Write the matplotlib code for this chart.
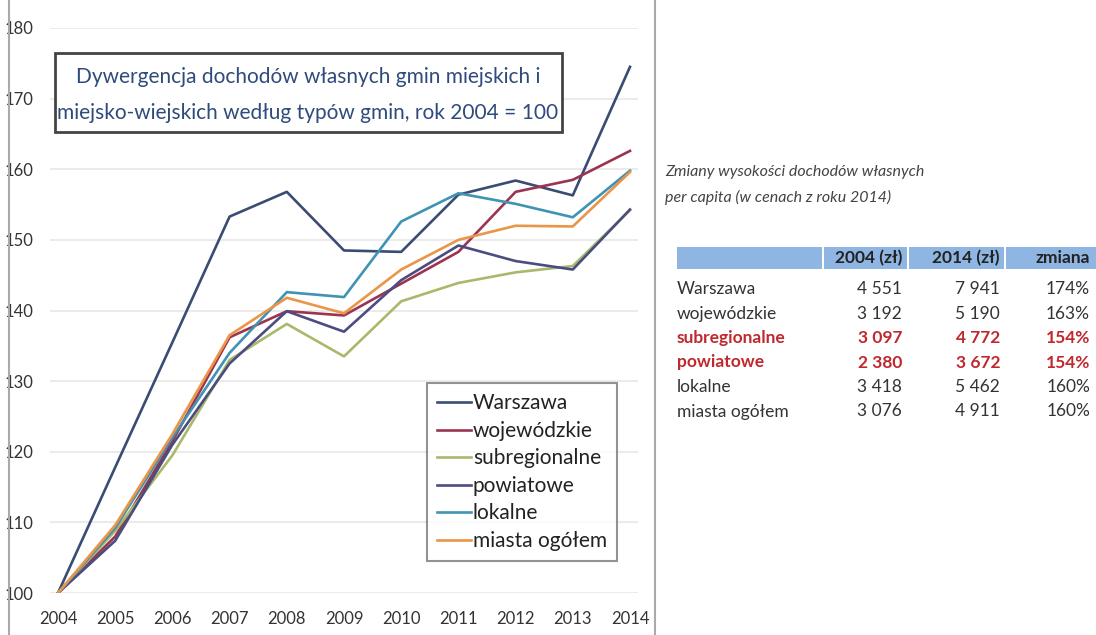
import matplotlib.pyplot as plt
from matplotlib.patches import Rectangle

# wskaźniki dochodów własnych, rok 2004 = 100
lata = [2004, 2005, 2006, 2007, 2008, 2009, 2010, 2011, 2012, 2013, 2014]
warszawa = [100, 117.8, 135.5, 153.3, 156.8, 148.5, 148.3, 156.4, 158.4, 156.3, 174.5]
wojewodzkie = [100, 108.0, 121.5, 136.2, 139.9, 139.3, 143.8, 148.3, 156.8, 158.5, 162.6]
subregionalne = [100, 108.8, 119.5, 133.0, 138.1, 133.5, 141.3, 143.9, 145.4, 146.3, 154.2]
powiatowe = [100, 107.4, 121.0, 132.5, 139.9, 137.0, 144.3, 149.2, 147.0, 145.8, 154.3]
lokalne = [100, 109.2, 122.0, 134.0, 142.6, 141.9, 152.6, 156.6, 155.1, 153.2, 159.8]
miasta_ogolem = [100, 109.6, 122.5, 136.5, 141.8, 139.6, 145.8, 150.0, 152.0, 151.9, 159.6]

serie = [
    ("Warszawa", warszawa, "#3a4c74"),
    ("wojewódzkie", wojewodzkie, "#9c3450"),
    ("subregionalne", subregionalne, "#a9b96c"),
    ("powiatowe", powiatowe, "#4b4d80"),
    ("lokalne", lokalne, "#3f93b3"),
    ("miasta ogółem", miasta_ogolem, "#eb9548"),
]

# tabela po prawej stronie
kolumny = ["2004 (zł)", "2014 (zł)", "zmiana"]
typy = ["Warszawa", "wojewódzkie", "subregionalne", "powiatowe", "lokalne", "miasta ogółem"]
dochod_2004 = ["4 551", "3 192", "3 097", "2 380", "3 418", "3 076"]
dochod_2014 = ["7 941", "5 190", "4 772", "3 672", "5 462", "4 911"]
zmiana = ["174%", "163%", "154%", "154%", "160%", "160%"]
wyroznione = ["subregionalne", "powiatowe"]

plt.rcParams['font.family'] = ['Lato', 'DejaVu Sans']

fig = plt.figure(figsize=(10.96, 6.35), dpi=100)
ax = fig.add_axes([50 / 1096, 1 - 593 / 635, 588 / 1096, 565 / 635])

for nazwa, wartosci, kolor in serie:
    ax.plot(lata, wartosci, color=kolor, lw=1.9, label=nazwa)

ax.set_xlim(2003.86, 2014.14)
ax.set_ylim(100, 180)
ax.set_xticks(lata)
ax.set_yticks(range(100, 181, 10))
ax.tick_params(length=0, labelsize=12, colors="#333333")
ax.tick_params(axis="x", pad=13)
ax.tick_params(axis="y", pad=12)
ax.grid(axis="y", color="#e8e8e8", lw=1.2)
for s in ax.spines.values():
    s.set_visible(False)

leg = ax.legend(loc="upper left", bbox_to_anchor=(427 / 1096, 1 - 383 / 635),
                bbox_transform=fig.transFigure, fontsize=15, handlelength=1.6,
                handletextpad=0.1, labelspacing=0.36, borderpad=0.5,
                fancybox=False, borderaxespad=0)
leg.get_frame().set_edgecolor("#777777")
leg.get_frame().set_linewidth(1.5)
for t in leg.get_texts():
    t.set_color("#222222")

# ramka z tytułem wykresu
fig.patches.append(Rectangle((55 / 1096, 1 - 132 / 635), 507 / 1096, 79 / 635,
                             transform=fig.transFigure, fill=True, facecolor="white",
                             edgecolor="#444444", lw=2, zorder=5))
fig.text(308 / 1096, 1 - 77 / 635, "Dywergencja dochodów własnych gmin miejskich i",
         ha="center", va="center", fontsize=15, color="#2f4b7c", zorder=6)
fig.text(308 / 1096, 1 - 113 / 635, "miejsko-wiejskich według typów gmin, rok 2004 = 100",
         ha="center", va="center", fontsize=15, color="#2f4b7c", zorder=6)

# pionowe linie obramowania panelu wykresu
fig.add_artist(plt.Line2D([9 / 1096, 9 / 1096], [0, 1], color="#aaaaaa", lw=1.5))
fig.add_artist(plt.Line2D([655 / 1096, 655 / 1096], [0, 1], color="#aaaaaa", lw=1.5))

# opis tabeli
fig.text(665 / 1096, 1 - 172 / 635, "Zmiany wysokości dochodów własnych",
         fontsize=11.5, style="italic", color="#444444", va="center")
fig.text(665 / 1096, 1 - 197 / 635, "per capita (w cenach z roku 2014)",
         fontsize=11.5, style="italic", color="#444444", va="center")

# nagłówek tabeli
naglowek_y = 258
for x0, x1 in [(677, 822), (824, 907), (909, 1004), (1006, 1096)]:
    fig.patches.append(Rectangle((x0 / 1096, 1 - 269 / 635), (x1 - x0) / 1096, 22 / 635,
                                 transform=fig.transFigure, facecolor="#8fb6e3",
                                 edgecolor="none"))
kol_x = [902, 1000, 1090]
for x, k in zip(kol_x, kolumny):
    fig.text(x / 1096, 1 - naglowek_y / 635, k, ha="right", va="center",
             fontsize=12.5, fontweight="bold", color="#222222")

wiersz_y0 = 289
krok = 24.5
for i, typ in enumerate(typy):
    y = 1 - (wiersz_y0 + i * krok) / 635
    if typ in wyroznione:
        kolor, waga = "#c0282e", "bold"
    else:
        kolor, waga = "#333333", "normal"
    fig.text(677 / 1096, y, typ, ha="left", va="center", fontsize=12.5,
             color=kolor, fontweight=waga)
    for x, v in zip(kol_x, [dochod_2004[i], dochod_2014[i], zmiana[i]]):
        fig.text(x / 1096, y, v, ha="right", va="center", fontsize=12.5,
                 color=kolor, fontweight=waga)

fig.savefig("out.png", dpi=100)
